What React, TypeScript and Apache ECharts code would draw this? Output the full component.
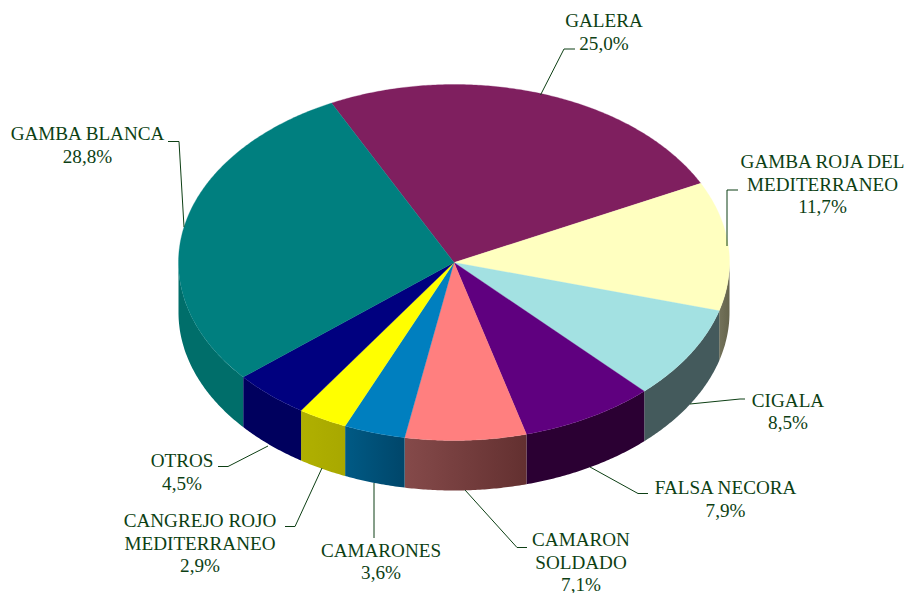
import React, { useEffect, useRef } from "react";
import * as echarts from "echarts";

const CATEGORIES = [
  "GALERA",
  "GAMBA ROJA DEL\nMEDITERRANEO",
  "CIGALA",
  "FALSA NECORA",
  "CAMARON\nSOLDADO",
  "CAMARONES",
  "CANGREJO ROJO\nMEDITERRANEO",
  "OTROS",
  "GAMBA BLANCA",
];
const VALUES = [25.0, 11.7, 8.5, 7.9, 7.1, 3.6, 2.9, 4.5, 28.8];

const TOP_COLORS = ["#7F1F5F", "#FFFFC0", "#A3E1E2", "#5F007F", "#FF7F7F", "#007FBF", "#FFFF00", "#00007F", "#007F7F"];
const SIDE_LEFT = ["#4A1238", "#73725A", "#445A5C", "#2B0033", "#854A4A", "#005A85", "#B0B000", "#00005E", "#006E6A"];
const SIDE_RIGHT = ["#4A1238", "#65644C", "#445A5C", "#2B0033", "#633030", "#00466A", "#A8A800", "#00005E", "#006E6A"];

// label anchors: [centre x, centre y of first line]
const LABEL_POS = [
  [604, 21], [822.5, 162], [788, 400.5], [725.5, 488], [581, 540],
  [381, 550.5], [200, 521], [182, 461], [87.5, 134],
];
const LEADERS = [
  [[575, 49], [564, 49], [540.5, 95]],
  [[738, 190], [727, 190], [727, 246]],
  [[745, 399], [740, 399], [690, 404]],
  [[648, 493.5], [638, 493.5], [590, 467]],
  [[527, 547.5], [517, 547.5], [465, 490]],
  [[374, 538], [374, 483]],
  [[285, 526.5], [295, 526.5], [322, 468]],
  [[218, 466.5], [228, 466.5], [268, 446]],
  [[168, 141.5], [179, 141.5], [184, 227]],
];

const CX = 454;
const CY = 262.5;
const RX = 275.5;
const RY = 178;
const DEPTH = 50;
const START_DEG = 333.6;
const TEXT_COLOR = "#0D3F14";
const FONT = '19.15px "Liberation Serif"';
const LINE_H = 22.4;

const TOTAL = VALUES.reduce((a, b) => a + b, 0);
const startOf = (i: number) => START_DEG + (VALUES.slice(0, i).reduce((a, b) => a + b, 0) / TOTAL) * 360;
const pt = (deg: number, dy = 0): number[] => {
  const r = (deg * Math.PI) / 180;
  return [CX + RX * Math.sin(r), CY - RY * Math.cos(r) + dy];
};
const arc = (a: number, b: number, dy = 0) => {
  const out: number[][] = [];
  const n = Math.max(2, Math.ceil((b - a) / 0.5));
  for (let k = 0; k <= n; k++) out.push(pt(a + ((b - a) * k) / n, dy));
  return out;
};

// the visible wall is the part of the rim between 90 and 270 degrees
const wallRange = (a: number, b: number): number[] | null => {
  for (const off of [0, 360, -360]) {
    const s = Math.max(a, 90 + off);
    const e = Math.min(b, 270 + off);
    if (e > s) return [s, e];
  }
  return null;
};

const renderSide = (p: any, api: any) => {
  const i = p.dataIndex;
  const a = startOf(i);
  const b = a + (api.value(0) / TOTAL) * 360;
  const range = wallRange(a, b);
  if (!range) return { type: "group", children: [] };
  const top = arc(range[0], range[1]);
  const bottom = arc(range[0], range[1], DEPTH).reverse();
  return {
    type: "polygon",
    shape: { points: top.concat(bottom) },
    style: {
      fill: new echarts.graphic.LinearGradient(0, 0, 1, 0, [
        { offset: 0, color: SIDE_LEFT[i] },
        { offset: 1, color: SIDE_RIGHT[i] },
      ]),
    },
  };
};

const renderTop = (p: any, api: any) => {
  const i = p.dataIndex;
  const a = startOf(i);
  const b = a + (api.value(0) / TOTAL) * 360;
  return {
    type: "polygon",
    shape: { points: [[CX, CY]].concat(arc(a, b)) },
    style: { fill: TOP_COLORS[i], stroke: TOP_COLORS[i], lineWidth: 0.3 },
  };
};

const percent = (v: number) => v.toFixed(1).replace(".", ",") + "%";

export default function App() {
  const ref = useRef<HTMLDivElement>(null);
  useEffect(() => {
    const chart = echarts.init(ref.current!, null, { renderer: "svg" });
    const data = VALUES.map((v, i) => ({ name: CATEGORIES[i], value: v }));
    chart.setOption({
      animation: false,
      backgroundColor: "#ffffff",
      series: [
        { type: "custom", coordinateSystem: "none", renderItem: renderSide, data, z: 1, silent: true },
        { type: "custom", coordinateSystem: "none", renderItem: renderTop, data, z: 2, silent: true },
      ],
      graphic: {
        elements: [
          ...LEADERS.map((points) => ({
            type: "polyline",
            z: 5,
            shape: { points },
            style: { stroke: TEXT_COLOR, lineWidth: 1, fill: "none" },
          })),
          ...CATEGORIES.map((name, i) => ({
            type: "text",
            z: 6,
            x: LABEL_POS[i][0],
            y: LABEL_POS[i][1] - LINE_H / 2,
            style: {
              text: name + "\n" + percent(VALUES[i]),
              font: FONT,
              fill: TEXT_COLOR,
              lineHeight: LINE_H,
              align: "center",
              verticalAlign: "top",
            },
          })),
        ],
      },
    });
    return () => chart.dispose();
  }, []);
  return <div ref={ref} style={{ position: "absolute", left: 0, top: 0, width: 909, height: 593 }} />;
}
